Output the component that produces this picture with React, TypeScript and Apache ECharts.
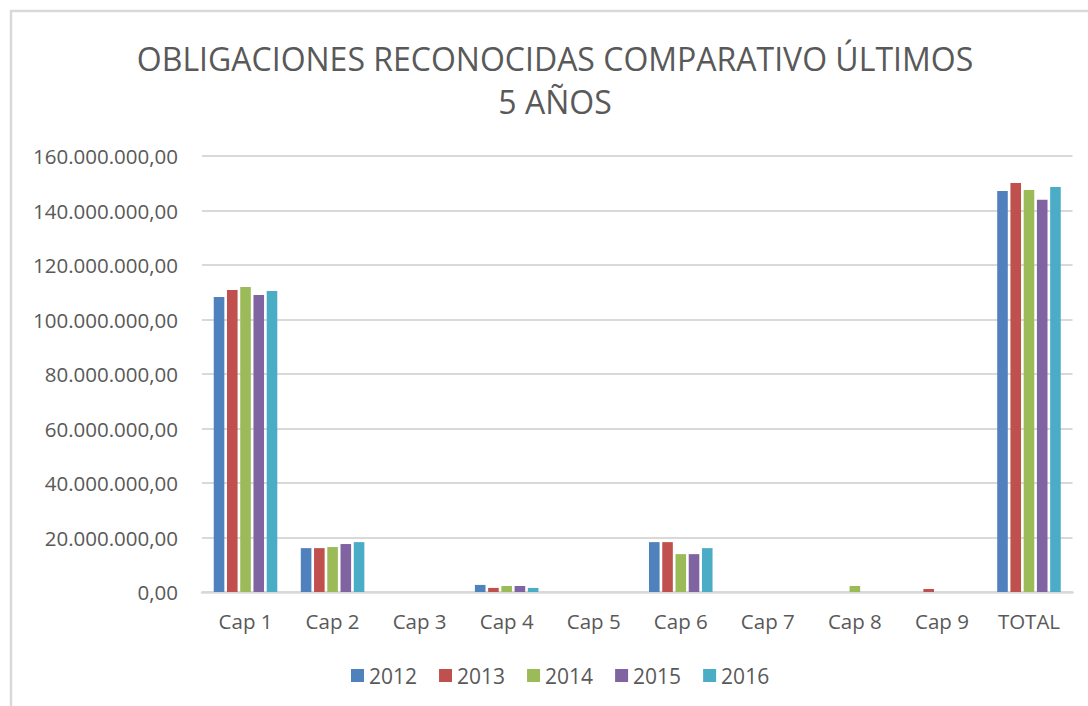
import React, { useEffect, useRef } from "react";
import * as echarts from "echarts";

const categories = ["Cap 1", "Cap 2", "Cap 3", "Cap 4", "Cap 5", "Cap 6", "Cap 7", "Cap 8", "Cap 9", "TOTAL"];
const years = ["2012", "2013", "2014", "2015", "2016"];
const colors = ["#4F81BD", "#C0504D", "#9BBB59", "#8064A2", "#4BACC6"];

const values2012 = [108300000, 16100000, 0, 2600000, 0, 18300000, 0, 0, 0, 147200000];
const values2013 = [110800000, 16100000, 0, 1500000, 0, 18300000, 0, 0, 1100000, 150100000];
const values2014 = [111900000, 16500000, 0, 2200000, 0, 13900000, 0, 2200000, 0, 147500000];
const values2015 = [109000000, 17600000, 0, 2200000, 0, 13900000, 0, 0, 0, 143900000];
const values2016 = [110500000, 18300000, 0, 1500000, 0, 16100000, 0, 0, 0, 148600000];

const seriesValues = [values2012, values2013, values2014, values2015, values2016];

const FONT = "'Open Sans', sans-serif";
const TEXT = "#595959";

function fmt(v: number): string {
  const s = Math.round(v).toString();
  return s.replace(/\B(?=(\d{3})+(?!\d))/g, ".") + ",00";
}

export default function App() {
  const ref = useRef<HTMLDivElement>(null);
  useEffect(() => {
    if (!ref.current) return;
    const chart = echarts.init(ref.current, undefined, { renderer: "svg" });
    chart.setOption({
      animation: false,
      backgroundColor: "#ffffff",
      title: {
        text: "OBLIGACIONES RECONOCIDAS COMPARATIVO ÚLTIMOS\n5 AÑOS",
        left: 550,
        top: 32,
        textAlign: "center",
        textStyle: {
          fontFamily: FONT,
          fontSize: 32,
          fontWeight: "normal",
          color: TEXT,
          lineHeight: 43,
        },
      },
      graphic: [
        {
          type: "rect",
          shape: { x: 11, y: 11, width: 1100, height: 720 },
          style: { fill: "none", stroke: "#D9D9D9", lineWidth: 2.5 },
          silent: true,
        },
      ],
      legend: {
        data: years,
        bottom: 15,
        left: 346,
        itemWidth: 13,
        itemHeight: 13,
        itemGap: 22,
        icon: "rect",
        textStyle: { fontFamily: FONT, fontSize: 21, color: TEXT },
      },
      grid: { left: 202, right: 15.5, top: 156, bottom: 114, containLabel: false },
      xAxis: {
        type: "category",
        data: categories,
        axisLine: { lineStyle: { color: "#D9D9D9", width: 2.5 } },
        axisTick: { show: false },
        axisLabel: { fontFamily: FONT, fontSize: 20.5, color: TEXT, margin: 18 },
      },
      yAxis: {
        type: "value",
        min: 0,
        max: 160000000,
        interval: 20000000,
        axisLine: { show: false },
        axisTick: { show: false },
        splitLine: { lineStyle: { color: "#D9D9D9", width: 2 } },
        axisLabel: {
          fontFamily: FONT,
          fontSize: 20.5,
          color: TEXT,
          margin: 24,
          formatter: (v: number) => fmt(v),
        },
      },
      series: years.map((y, i) => ({
        name: y,
        type: "bar",
        data: seriesValues[i],
        itemStyle: { color: colors[i] },
        barGap: "25%",
        barCategoryGap: "27%",
      })),
    });
    return () => chart.dispose();
  }, []);
  return (
    <div
      ref={ref}
      style={{ position: "fixed", left: 0, top: 0, width: 1088, height: 706 }}
    />
  );
}
